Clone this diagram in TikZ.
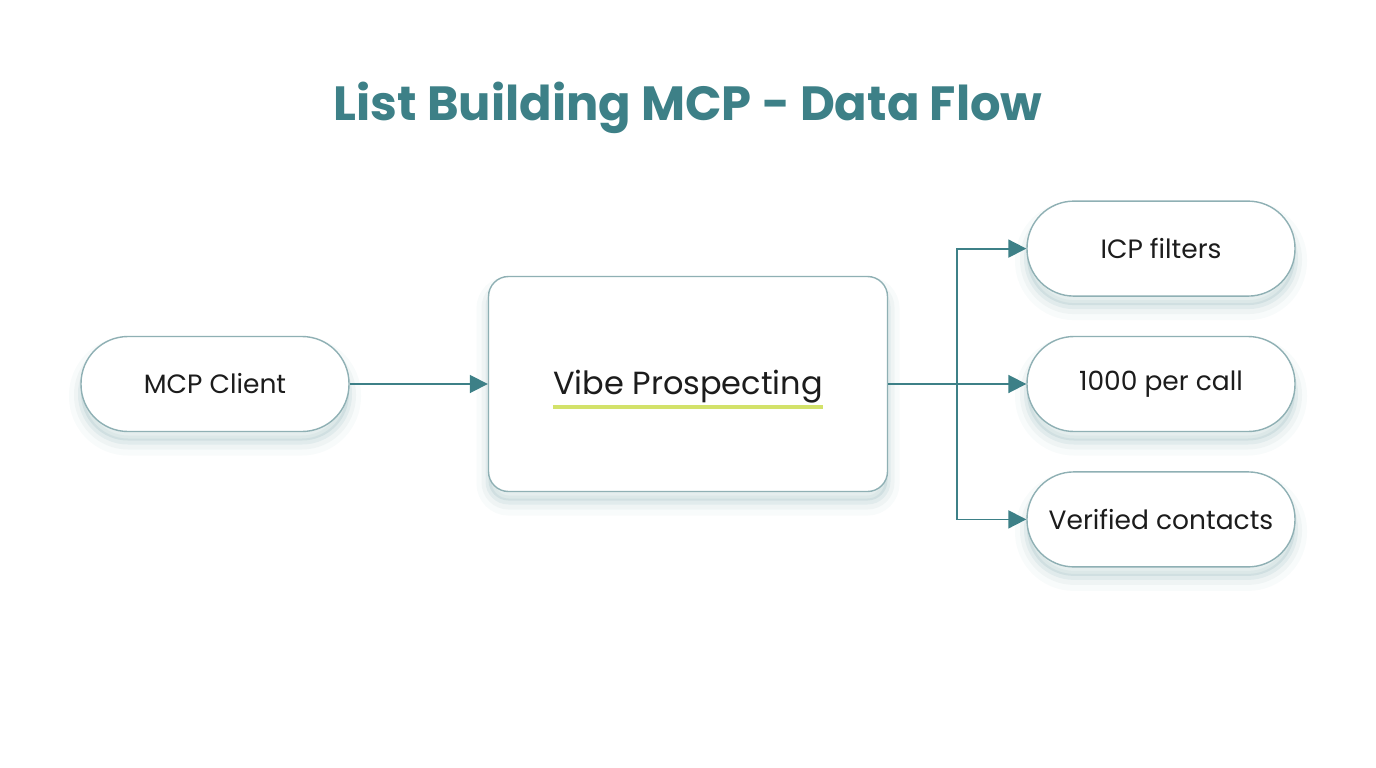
\documentclass[tikz,border=0pt]{standalone}
\usepackage{fontspec}
\setmainfont{Poppins}
\usepackage{tikz}
\usetikzlibrary{arrows.meta,positioning}

\definecolor{flowteal}{HTML}{3D8087}
\definecolor{edgegray}{HTML}{8FB0B4}
\definecolor{inkblack}{HTML}{1C1C1C}
\definecolor{limeline}{HTML}{D3E26A}

\tikzset{
	softshade/.style={
		preaction={fill=flowteal, opacity=0.10, transform canvas={yshift=-9pt}},
		preaction={draw=flowteal, line width=6pt, opacity=0.07, transform canvas={yshift=-10pt}},
		preaction={draw=flowteal, line width=14pt, opacity=0.05, transform canvas={yshift=-11pt}},
		preaction={draw=flowteal, line width=24pt, opacity=0.03, transform canvas={yshift=-12pt}}
	}
}

\begin{document}
\begin{tikzpicture}[
			x=1pt, y=-1pt,
			node distance=39pt,
			pill/.style={
				rectangle,
				rounded corners=47pt,
				draw=edgegray,
				line width=1.4pt,
				fill=white,
				softshade,
				minimum width=268pt,
				minimum height=95pt,
				align=center,
				text=inkblack,
				font=\fontsize{26.5}{30}\selectfont
			},
			corebox/.style={
				rectangle,
				rounded corners=20pt,
				draw=edgegray,
				line width=1.4pt,
				fill=white,
				softshade,
				minimum width=399pt,
				minimum height=215pt
			},
			arrow/.style={-{Triangle[length=18pt,width=18pt]},line width=1.8pt,draw=flowteal}
			]
			\useasboundingbox[fill=white] (0,0) rectangle (1376,768);
			
			\node[font=\fontsize{48}{58}\selectfont\bfseries, text=flowteal] (title) at (688,108) {List Building MCP - Data Flow};
			
			\node[pill] (client) at (215,384) {MCP Client};
			\node[corebox] (vibe) at (688,384) {};
			\node[inner sep=0pt, text=inkblack, font=\fontsize{32}{36}\selectfont] (vibetext) at (688,387) {Vibe Prospecting};
			\draw[limeline, line width=4pt] ([yshift=-12pt]vibetext.base west) -- ([yshift=-12pt]vibetext.base east);
			
			\node[pill] (calls) at (1161,384) {1000 per call};
			\node[pill, above=of calls] (icp) {ICP filters};
			\node[pill, below=of calls] (contacts) {Verified contacts};
			\coordinate (split) at (957,384);
			
			\draw[arrow] (client) -- (vibe);
			\draw[arrow] (vibe) -- (calls);
			\draw[arrow] (split) |- (icp.west);
			\draw[arrow] (split) |- (contacts.west);
		\end{tikzpicture}
\end{document}
